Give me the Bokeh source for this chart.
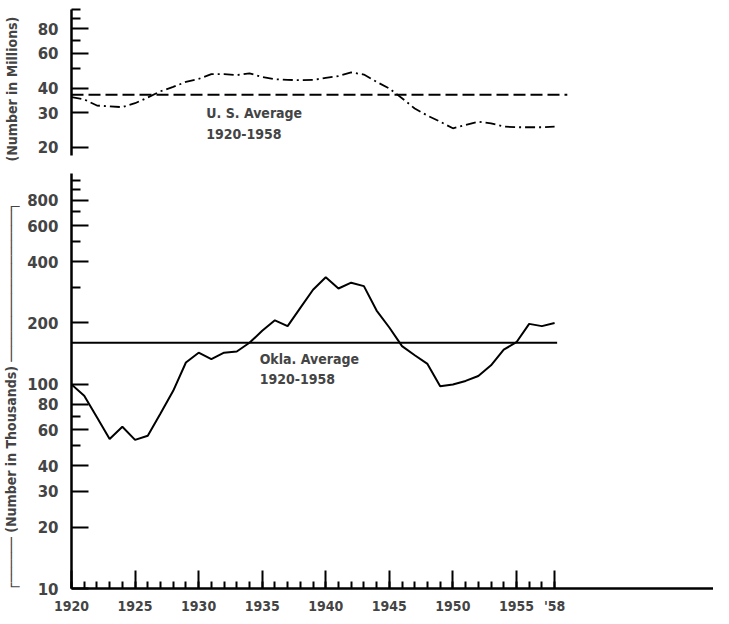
from bokeh.plotting import figure
from bokeh.layouts import column
from bokeh.models import Range1d, FixedTicker, Label, BasicTickFormatter
from bokeh.embed import file_html
from bokeh.resources import INLINE

# ---- data ----
years = list(range(1920, 1959))
us_millions = [36, 35, 32.6, 32.3, 32, 33.5, 35.8, 38.5, 40.5, 43,
               44.5, 47, 47, 46.5, 47.5, 45.5, 44.3, 44, 43.8, 44,
               45, 46, 48, 46.8, 43, 39.8, 35.5, 31.5, 29, 27,
               25, 26, 27, 26.5, 25.5, 25.3, 25.3, 25.3, 25.5]
okla_thousands = [100, 88, 69, 54, 62, 53.5, 56, 72, 93, 128,
                  143, 133, 143, 145, 160, 183, 206, 193, 237, 291,
                  335, 295, 315, 303, 230, 190, 154, 139, 126, 98,
                  100, 104, 110, 124, 148, 161, 198, 193, 200]
us_average = 37
okla_average = 160
avg_years_us = [1920, 1959]
avg_years_ok = [1920, 1958.2]

top_ticks = [20, 30, 40, 60, 80]
top_minor = [50, 70, 90, 100]
bot_ticks = [10, 20, 30, 40, 60, 80, 100, 200, 400, 600, 800]
bot_minor = [50, 70, 300, 500, 700, 900, 1000]
x_ticks = [1920, 1925, 1930, 1935, 1940, 1945, 1950, 1955, 1958]
x_labels = {1958: "'58"}

top_title = "(Number in Millions)"
bot_title = "(Number in Thousands)"

TICK_FONT = "DejaVu Sans"
LABEL_FONT = "DejaVu Sans Condensed"
NB = "\u00a0"
H = "\u2500"

xr = Range1d(1920, 1970.5)


def style_yaxis(ax, ticks, minor, standoff):
    ax.ticker = FixedTicker(ticks=ticks, minor_ticks=minor)
    ax.formatter = BasicTickFormatter(use_scientific=False)
    ax.major_tick_in = 17
    ax.major_tick_out = 0
    ax.minor_tick_in = 9
    ax.minor_tick_out = 0
    ax.axis_line_width = 2.5
    ax.major_tick_line_width = 2
    ax.minor_tick_line_width = 2
    ax.major_label_standoff = 13
    ax.major_label_text_font = TICK_FONT
    ax.major_label_text_font_style = "bold"
    ax.major_label_text_font_size = "15px"
    ax.axis_label_text_font = LABEL_FONT
    ax.axis_label_text_font_style = "bold"
    ax.axis_label_text_font_size = "14px"
    ax.axis_label_standoff = standoff


top = figure(width=713, height=165, x_range=xr, y_range=Range1d(18.2, 100),
             y_axis_type="log", x_axis_location=None,
             output_backend="svg", toolbar_location=None,
             min_border_left=67, min_border_right=0, min_border_top=9,
             min_border_bottom=10)
top.outline_line_color = None
top.grid.visible = False
top.yaxis.axis_label = top_title + NB * 3
style_yaxis(top.yaxis[0], top_ticks, top_minor, 15)

top.line(years, us_millions, line_color="black", line_width=1.8,
         line_dash="10 4 2 4")
top.line(avg_years_us, [us_average, us_average], line_color="black",
         line_width=2, line_dash="12 5")
top.add_layout(Label(x=1930.6, y=29.9, text="U. S. Average",
                     text_font=LABEL_FONT, text_font_style="bold",
                     text_font_size="14px", text_baseline="middle"))
top.add_layout(Label(x=1930.6, y=23.4, text="1920-1958",
                     text_font=LABEL_FONT, text_font_style="bold",
                     text_font_size="14px", text_baseline="middle"))

bot = figure(width=713, height=453, x_range=xr, y_range=Range1d(10, 1080),
             y_axis_type="log", output_backend="svg", toolbar_location=None,
             min_border_left=67, min_border_right=0, min_border_top=8,
             min_border_bottom=30)
bot.outline_line_color = None
bot.grid.visible = False
bot.yaxis.axis_label = ("\u250c" + H * 6 + " " + bot_title + " " + H * 20
                        + "\u2510" + NB * 7)
style_yaxis(bot.yaxis[0], bot_ticks, bot_minor, 5)

xa = bot.xaxis[0]
xa.ticker = FixedTicker(ticks=x_ticks, minor_ticks=years)
xa.formatter = BasicTickFormatter(use_scientific=False)
xa.major_label_overrides = x_labels
xa.major_tick_in = 18
xa.major_tick_out = 0
xa.minor_tick_in = 7
xa.minor_tick_out = 0
xa.axis_line_width = 2.5
xa.major_tick_line_width = 2
xa.minor_tick_line_width = 2
xa.major_label_standoff = 9
xa.major_label_text_font = LABEL_FONT
xa.major_label_text_font_style = "bold"
xa.major_label_text_font_size = "14px"

bot.line(years, okla_thousands, line_color="black", line_width=2)
bot.line(avg_years_ok, [okla_average, okla_average], line_color="black",
         line_width=2)
bot.add_layout(Label(x=1934.8, y=132.6, text="Okla. Average",
                     text_font=LABEL_FONT, text_font_style="bold",
                     text_font_size="14px", text_baseline="middle"))
bot.add_layout(Label(x=1934.8, y=105.8, text="1920-1958",
                     text_font=LABEL_FONT, text_font_style="bold",
                     text_font_size="14px", text_baseline="middle"))

layout = column(top, bot, spacing=0)
open("out.html", "w").write(file_html(layout, INLINE))
